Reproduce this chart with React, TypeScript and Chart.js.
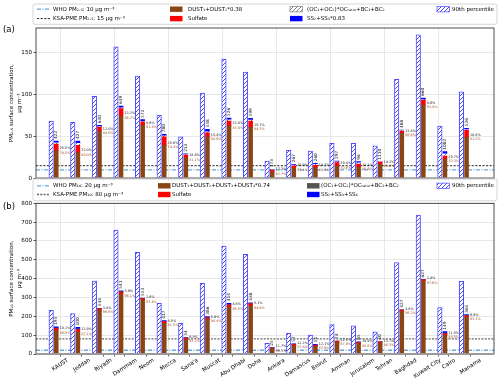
import React, { useEffect, useRef } from 'react';
import { Chart, registerables } from 'chart.js';
Chart.register(...registerables);

const FONT = 'DejaVu Sans';

const CITIES = ['KAUST', 'Jeddah', 'Riyadh', 'Dammam', 'Neom', 'Mecca', "Sana'a", 'Muscat', 'Abu Dhabi', 'Doha', 'Ankara', 'Damascus', 'Beirut', 'Amman', 'Jerusalem', 'Tehran', 'Baghdad', 'Kuwait City', 'Cairo', 'Manama'];

// ---- PM2.5 (panel a) ----
const P90_PM25 = [68, 66.6, 97.6, 156.7, 121.8, 75.4, 49.5, 101.5, 142, 126.5, 20.6, 33.3, 32.5, 41.7, 41.7, 38.8, 117.8, 171, 62.3, 103];
const DUST_PM25 = [33, 30.5, 56.3, 74.5, 63, 39.2, 24.5, 49.2, 62.6, 60.7, 7.9, 12.6, 12.6, 15, 13.5, 16.7, 53.5, 87.3, 23, 48.8];
const SULF_PM25 = [7.8, 8.7, 4.7, 8.4, 4.4, 10.3, 3.2, 5.1, 5.6, 7.5, 1.5, 2.4, 2.9, 3.6, 3.5, 2.6, 2.8, 5.9, 3.5, 8.3];
const OC_PM25 = [1.5, 2.4, 0.5, 1.0, 0.5, 1.0, 0.5, 1.0, 1.5, 1.0, 0.8, 0.7, 1.0, 1.0, 1.5, 0.3, 0.6, 0.5, 2.7, 0.8];
const SS_PM25 = [2.1, 2.8, 1.6, 2.1, 1.9, 1.9, 0.9, 3.0, 2.1, 2.2, 0.5, 1.0, 1.3, 1.0, 1.3, 0.1, 0.6, 1.9, 2.5, 1.6];
const N_PM25 = ['422', '427', '630', '639', '572', '780', '213', '558', '526', '599', '173', '267', '260', '297', '96', '1110', '488', '660', '1082', '526'];
const PCT_A_PM25 = ['25.5%', '32.0%', '12.0%', '13.3%', '8.6%', '25.6%', '18.9%', '15.4%', '13.0%', '15.7%', '17.3%', '20.9%', '18.7%', '29.4%', '13.1%', '14.2%', '13.4%', '8.6%', '29.7%', '18.8%'];
const PCT_B_PM25 = ['74.5%', '68.0%', '88.0%', '86.7%', '91.4%', '74.4%', '81.1%', '84.6%', '87.0%', '84.3%', '82.7%', '79.1%', '81.3%', '70.6%', '86.9%', '85.8%', '86.6%', '91.4%', '70.3%', '81.2%'];
const Y_TICKS_PM25 = [0, 50, 100, 150];

// ---- PM10 (panel b) ----
const P90_PM10 = [232, 214, 387, 658, 540, 269, 163, 375, 573, 529, 57, 110, 101, 156, 149, 118, 485, 738, 246, 386];
const DUST_PM10 = [124, 118, 232, 320, 288, 163, 78, 184, 251, 256, 28, 46, 41, 62, 55, 58.5, 226.6, 389, 99, 195];
const SULF_PM10 = [11, 12, 8, 9, 6, 9, 6, 8, 9, 10, 3, 5, 5, 5, 5, 5, 6, 5, 8, 8];
const OC_PM10 = [3, 4, 1, 2, 1, 2, 1, 2, 3, 2, 1, 1, 2, 1, 2, 1, 1, 1, 4, 2];
const SS_PM10 = [6, 7, 2, 5, 2, 3, 2, 4, 6, 4, 1.5, 2, 3.5, 1, 3, 0.5, 1.5, 1, 7.5, 4];
const N_PM10 = ['193', '100', '544', '541', '553', '417', '54', '386', '414', '438', '25', '57', '51', '74', '65', '40', '427', '627', '149', '365'];
const PCT_A_PM10 = ['10.1%', '12.9%', '3.4%', '3.9%', '2.6%', '8.5%', '6.8%', '5.6%', '4.5%', '5.1%', '11.7%', '12.2%', '12.1%', '12.1%', '14.4%', '13.7%', '3.8%', '2.4%', '11.5%', '6.9%'];
const PCT_B_PM10 = ['89.9%', '87.1%', '96.6%', '96.1%', '97.4%', '91.5%', '93.2%', '94.4%', '95.5%', '94.9%', '88.3%', '87.8%', '87.9%', '87.9%', '85.6%', '86.3%', '96.2%', '97.6%', '88.5%', '93.1%'];
const Y_TICKS_PM10 = [0, 100, 200, 300, 400, 500, 600, 700, 800];

const X_MIN = -1.12;
const X_MAX = 20.09;
const X_TICKS = [...Array.from({ length: 20 }, (_, i) => i), 2.5, 7.5, 12.5, 17.5].sort((a, b) => a - b);

const BROWN = '#8b4513';
const RED = '#ff0000';
const BLUE = '#0000ff';
const HATCH = '#4a4aff';
const OC_GRAY = '#555555';
const WHO_C = '#6aa6d8';
const GRID = '#e2e2e2';

function hatch(color: string, bg = '#ffffff', size = 4, lw = 1) {
  const c = document.createElement('canvas');
  c.width = size;
  c.height = size;
  const g = c.getContext('2d')!;
  g.fillStyle = bg;
  g.fillRect(0, 0, size, size);
  g.strokeStyle = color;
  g.lineWidth = lw;
  g.beginPath();
  g.moveTo(0, size); g.lineTo(size, 0);
  g.moveTo(-1, 1); g.lineTo(1, -1);
  g.moveTo(size - 1, size + 1); g.lineTo(size + 1, size - 1);
  g.stroke();
  return g.createPattern(c, 'repeat');
}

interface Panel {
  p90: number[]; dust: number[]; sulf: number[]; oc: number[]; ss: number[];
  nums: string[]; pctA: string[]; pctB: string[];
  yMax: number; yTicks: number[]; who: number; ksa: number;
  whoLabel: string; ksaLabel: string; dustLabel: string; ssLabel: string;
  ksaColor: string; ksaDash: number[]; ksaWidth: number;
  ocHatch: boolean; yTitle: string[]; panelLabel: string; panelLabelY: number;
  showXLabels: boolean; xAxisH: number; padTop: number;
  legendBox: number[]; legendRows: number[]; handleX: number[]; textX: number[];
}

const PANEL_A: Panel = {
  p90: P90_PM25, dust: DUST_PM25, sulf: SULF_PM25, oc: OC_PM25, ss: SS_PM25,
  nums: N_PM25, pctA: PCT_A_PM25, pctB: PCT_B_PM25,
  yMax: 179, yTicks: Y_TICKS_PM25, who: 10, ksa: 15,
  whoLabel: 'WHO PM₂.₅: 10 μg m⁻³', ksaLabel: 'KSA-PME PM₂.₅: 15 μg m⁻³',
  dustLabel: 'DUST₁+DUST₂*0.38', ssLabel: 'SS₂+SS₃*0.83',
  ksaColor: '#111111', ksaDash: [2.2, 1.4], ksaWidth: 0.9,
  ocHatch: true, yTitle: ['PM₂.₅ surface concentration,', 'μg m⁻³'], panelLabel: '(a)', panelLabelY: 30,
  showXLabels: false, xAxisH: 11.7, padTop: 28,
  legendBox: [33, 4, 497, 24.3], legendRows: [9.2, 18.6], handleX: [37, 170, 290, 437], textX: [53, 188, 307, 452],
};

const PANEL_B: Panel = {
  p90: P90_PM10, dust: DUST_PM10, sulf: SULF_PM10, oc: OC_PM10, ss: SS_PM10,
  nums: N_PM10, pctA: PCT_A_PM10, pctB: PCT_B_PM10,
  yMax: 800, yTicks: Y_TICKS_PM10, who: 20, ksa: 80,
  whoLabel: 'WHO PM₁₀: 20 μg m⁻³', ksaLabel: 'KSA-PME PM₁₀: 80 μg m⁻³',
  dustLabel: 'DUST₁+DUST₂+DUST₃+DUST₄*0.74', ssLabel: 'SS₂+SS₃+SS₄',
  ksaColor: '#666666', ksaDash: [2, 1.3], ksaWidth: 1.3,
  ocHatch: false, yTitle: ['PM₁₀ surface concentration,', 'μg m⁻³'], panelLabel: '(b)', panelLabelY: 29,
  showXLabels: true, xAxisH: 26, padTop: 25.3,
  legendBox: [33, 1, 497, 22.8], legendRows: [7.8, 16.5], handleX: [37, 158, 307, 437], textX: [53, 172, 321, 452],
};

function overlay(p: Panel) {
  return {
    id: 'overlay',
    afterDatasetsDraw(chart: any) {
      const ctx = chart.ctx;
      const dustMeta = chart.getDatasetMeta(3);
      const ssMeta = chart.getDatasetMeta(6);
      ctx.save();
      for (let i = 0; i < CITIES.length; i++) {
        const top = ssMeta.data[i];
        const d = dustMeta.data[i];
        if (!top || !d) continue;
        const right = top.x + top.width / 2;
        ctx.save();
        ctx.translate(top.x, top.y - 2);
        ctx.rotate(-Math.PI / 2);
        ctx.font = `4.3px "${FONT}"`;
        ctx.fillStyle = '#222222';
        ctx.textAlign = 'left';
        ctx.textBaseline = 'middle';
        ctx.fillText(p.nums[i], 0, 0);
        ctx.restore();
        ctx.font = `3.4px "${FONT}"`;
        ctx.textAlign = 'left';
        ctx.textBaseline = 'middle';
        ctx.fillStyle = '#1a1a1a';
        ctx.fillText(p.pctA[i], right + 1.4, d.y - 2.2);
        ctx.fillStyle = '#a0522d';
        ctx.fillText(p.pctB[i], right + 1.4, d.y + 2.2);
      }
      ctx.restore();
    },
    afterDraw(chart: any) {
      const ctx = chart.ctx;
      const ca = chart.chartArea;
      ctx.save();
      ctx.strokeStyle = '#222222';
      ctx.lineWidth = 0.8;
      ctx.strokeRect(ca.left, ca.top, ca.right - ca.left, ca.bottom - ca.top);
      ctx.strokeStyle = '#9a9a9a';
      ctx.lineWidth = 2;
      ctx.beginPath();
      ctx.moveTo(ca.left, ca.bottom);
      ctx.lineTo(ca.right, ca.bottom);
      ctx.stroke();

      if (p.showXLabels) {
        const xs = chart.scales.x;
        ctx.font = `5.6px "${FONT}"`;
        ctx.fillStyle = '#000000';
        const th = (33 * Math.PI) / 180;
        CITIES.forEach((c, i) => {
          const x = xs.getPixelForValue(i);
          const L = ctx.measureText(c).width;
          const h = 4.3;
          const bh = L * Math.sin(th) + h * Math.cos(th);
          ctx.save();
          ctx.translate(x, ca.bottom + 4 + bh / 2);
          ctx.rotate(-th);
          ctx.textAlign = 'center';
          ctx.textBaseline = 'middle';
          ctx.fillText(c, 0, 0);
          ctx.restore();
        });
      }

      ctx.font = `8.5px "${FONT}"`;
      ctx.fillStyle = '#000000';
      ctx.textAlign = 'left';
      ctx.textBaseline = 'middle';
      ctx.fillText(p.panelLabel, 3, p.panelLabelY);

      const [x0, y0, x1, y1] = p.legendBox;
      ctx.beginPath();
      const r = 2;
      ctx.moveTo(x0 + r, y0);
      ctx.lineTo(x1 - r, y0);
      ctx.quadraticCurveTo(x1, y0, x1, y0 + r);
      ctx.lineTo(x1, y1 - r);
      ctx.quadraticCurveTo(x1, y1, x1 - r, y1);
      ctx.lineTo(x0 + r, y1);
      ctx.quadraticCurveTo(x0, y1, x0, y1 - r);
      ctx.lineTo(x0, y0 + r);
      ctx.quadraticCurveTo(x0, y0, x0 + r, y0);
      ctx.closePath();
      ctx.fillStyle = 'rgba(255,255,255,0.85)';
      ctx.fill();
      ctx.strokeStyle = '#cccccc';
      ctx.lineWidth = 0.8;
      ctx.stroke();

      const ds = chart.data.datasets;
      const items = [
        { di: 0, col: 0, row: 0 },
        { di: 1, col: 0, row: 1 },
        { di: 3, col: 1, row: 0 },
        { di: 4, col: 1, row: 1 },
        { di: 5, col: 2, row: 0 },
        { di: 6, col: 2, row: 1 },
        { di: 2, col: 3, row: 0 },
      ];
      items.forEach((it) => {
        const d = ds[it.di];
        const hx = p.handleX[it.col];
        const tx = p.textX[it.col];
        const y = p.legendRows[it.row];
        if (d.type === 'line') {
          ctx.save();
          ctx.beginPath();
          ctx.setLineDash(d.borderDash || []);
          ctx.strokeStyle = d.borderColor;
          ctx.lineWidth = d.borderWidth;
          ctx.moveTo(hx, y);
          ctx.lineTo(hx + 13, y);
          ctx.stroke();
          ctx.restore();
        } else {
          ctx.fillStyle = d.backgroundColor;
          ctx.fillRect(hx, y - 2.7, 12.5, 5.4);
          if (d.legendEdge) {
            ctx.strokeStyle = d.legendEdge;
            ctx.lineWidth = 0.7;
            ctx.strokeRect(hx, y - 2.7, 12.5, 5.4);
          }
        }
        ctx.font = `5.5px "${FONT}"`;
        ctx.fillStyle = '#000000';
        ctx.textAlign = 'left';
        ctx.textBaseline = 'middle';
        ctx.fillText(d.label, tx, y);
      });
      ctx.restore();
    },
  };
}

function buildConfig(p: Panel): any {
  const pts = (arr: number[]) => arr.map((v, i) => ({ x: i, y: v }));
  const hatchBlue = hatch(HATCH);
  const ocFill = p.ocHatch ? hatch('#808080') : OC_GRAY;
  const datasets: any[] = [
    {
      type: 'line', label: p.whoLabel, data: [{ x: X_MIN, y: p.who }, { x: X_MAX, y: p.who }],
      borderColor: WHO_C, borderWidth: 1.3, borderDash: [4, 1.5, 1, 1.5], pointRadius: 0, order: 10, stack: 'who', fill: false,
    },
    {
      type: 'line', label: p.ksaLabel, data: [{ x: X_MIN, y: p.ksa }, { x: X_MAX, y: p.ksa }],
      borderColor: p.ksaColor, borderWidth: p.ksaWidth, borderDash: p.ksaDash, pointRadius: 0, order: 11, stack: 'ksa', fill: false,
    },
    {
      label: '90th percentile', data: pts(p.p90), backgroundColor: hatchBlue, borderColor: HATCH, borderWidth: 1,
      borderSkipped: false, stack: 'p90', barThickness: 4.5, legendEdge: HATCH,
    },
    { label: p.dustLabel, data: pts(p.dust), backgroundColor: BROWN, stack: 'comp', barThickness: 3.9 },
    { label: 'Sulfate', data: pts(p.sulf), backgroundColor: RED, stack: 'comp', barThickness: 3.9 },
    {
      label: '(OC₁+OC₂)*OCᵣₐₜᵢₒ+BC₁+BC₂', data: pts(p.oc), backgroundColor: ocFill, stack: 'comp', barThickness: 3.9,
      legendEdge: p.ocHatch ? '#808080' : undefined,
    },
    { label: p.ssLabel, data: pts(p.ss), backgroundColor: BLUE, stack: 'comp', barThickness: 3.9 },
  ];
  return {
    type: 'bar',
    data: { datasets },
    options: {
      animation: false,
      responsive: false,
      maintainAspectRatio: false,
      devicePixelRatio: 1,
      layout: { padding: { top: p.padTop, right: 6, bottom: 0, left: 0 } },
      plugins: { legend: { display: false }, tooltip: { enabled: false } },
      scales: {
        x: {
          type: 'linear', min: X_MIN, max: X_MAX, offset: false, stacked: false,
          afterBuildTicks: (s: any) => { s.ticks = X_TICKS.map((v) => ({ value: v })); },
          afterFit: (s: any) => { s.height = p.xAxisH; },
          ticks: { display: false },
          grid: {
            offset: false,
            color: (c: any) => (c.tick && c.tick.value % 2.5 === 0 ? GRID : 'rgba(0,0,0,0)'),
            lineWidth: 0.8,
            tickColor: '#333333',
            tickWidth: 0.8,
            tickLength: 2.5,
          },
          border: { display: false },
        },
        y: {
          stacked: true, min: 0, max: p.yMax,
          afterBuildTicks: (s: any) => { s.ticks = p.yTicks.map((v) => ({ value: v })); },
          afterFit: (s: any) => { s.width = 36; },
          ticks: { font: { family: FONT, size: 5.6 }, color: '#000000', padding: 1.5 },
          grid: { color: GRID, lineWidth: 0.8, tickLength: 2.5, tickColor: '#333333', tickWidth: 0.8 },
          border: { display: false },
          title: {
            display: true, text: p.yTitle, color: '#000000',
            font: { family: FONT, size: 5.5, lineHeight: 1.4 }, padding: { top: 8, bottom: 0 },
          },
        },
      },
    },
    plugins: [overlay(p)],
  };
}

function PanelChart({ panel, top, height }: { panel: Panel; top: number; height: number }) {
  const ref = useRef<HTMLCanvasElement>(null);
  useEffect(() => {
    const chart = new Chart(ref.current!, buildConfig(panel));
    return () => chart.destroy();
  }, [panel]);
  return (
    <canvas
      ref={ref}
      width={500}
      height={height}
      style={{ position: 'absolute', left: 0, top, width: 500, height, display: 'block' }}
    />
  );
}

export default function App() {
  useEffect(() => {
    document.body.style.margin = '0';
    document.body.style.background = '#ffffff';
  }, []);
  return (
    <div style={{ position: 'relative', width: 500, height: 380, background: '#ffffff' }}>
      <PanelChart panel={PANEL_A} top={0} height={190} />
      <PanelChart panel={PANEL_B} top={178} height={202} />
    </div>
  );
}
